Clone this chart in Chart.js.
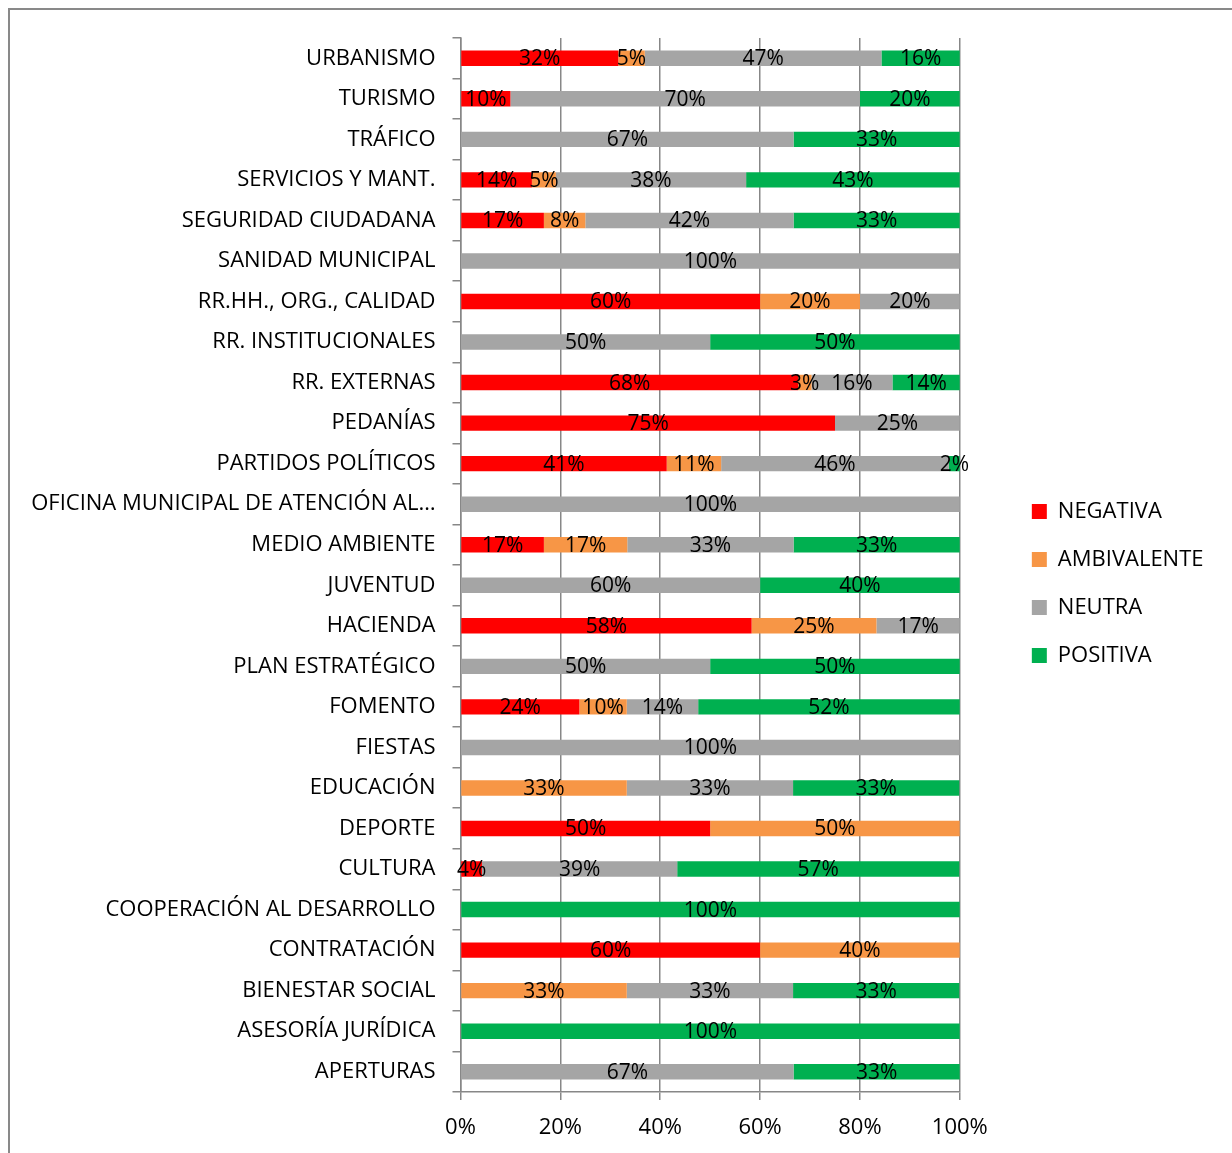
<!DOCTYPE html>
<html>
<head>
<meta charset="utf-8">
<script src="https://cdn.jsdelivr.net/npm/chart.js@4"></script>
<style>
  html, body { margin: 0; padding: 0; background: #fff; }
  #frame { position: absolute; left: 8px; top: 8px; width: 1400px; height: 1400px; border: 2px solid #898989; box-sizing: border-box; }
  #wrap { position: absolute; left: 0; top: 0; width: 1232px; height: 1153px; }
</style>
</head>
<body>
<div id="frame"></div>
<div id="wrap"><canvas id="chart"></canvas></div>
<script>
// -----Data
var categories = ['URBANISMO', 'TURISMO', 'TRÁFICO', 'SERVICIOS Y MANT.', 'SEGURIDAD CIUDADANA', 'SANIDAD MUNICIPAL',
  'RR.HH., ORG., CALIDAD', 'RR. INSTITUCIONALES', 'RR. EXTERNAS', 'PEDANÍAS', 'PARTIDOS POLÍTICOS',
  'OFICINA MUNICIPAL DE ATENCIÓN AL…', 'MEDIO AMBIENTE', 'JUVENTUD', 'HACIENDA', 'PLAN ESTRATÉGICO', 'FOMENTO',
  'FIESTAS', 'EDUCACIÓN', 'DEPORTE', 'CULTURA', 'COOPERACIÓN AL DESARROLLO', 'CONTRATACIÓN', 'BIENESTAR SOCIAL',
  'ASESORÍA JURÍDICA', 'APERTURAS']
var negativa    = [31.6, 10, 0, 14.3, 16.7, 0, 60, 0, 67.6, 75, 41.3, 0, 16.7, 0, 58.3, 0, 23.8, 0, 0, 50, 4.3, 0, 60, 0, 0, 0]
var ambivalente = [5.3, 0, 0, 4.8, 8.3, 0, 20, 0, 2.7, 0, 10.9, 0, 16.7, 0, 25, 0, 9.5, 0, 33.3, 50, 0, 0, 40, 33.3, 0, 0]
var neutra      = [47.4, 70, 66.7, 38.1, 41.7, 100, 20, 50, 16.2, 25, 45.6, 100, 33.3, 60, 16.7, 50, 14.3, 100, 33.3, 0, 39.1, 0, 0, 33.3, 0, 66.7]
var positiva    = [15.7, 20, 33.3, 42.8, 33.3, 0, 0, 50, 13.5, 0, 2.2, 0, 33.3, 40, 0, 50, 52.4, 0, 33.3, 0, 56.5, 100, 0, 33.3, 100, 33.3]
var xTicks = [0, 20, 40, 60, 80, 100]

var FONT = "'Open Sans', sans-serif"
var gridColor = '#878787'

// -----Labels inside the bars
var barLabels = {
  id: 'barLabels',
  afterDatasetsDraw: function(chart) {
    var ctx = chart.ctx
    ctx.save()
    ctx.font = '21px ' + FONT
    ctx.fillStyle = '#000'
    ctx.textAlign = 'center'
    ctx.textBaseline = 'middle'
    chart.data.datasets.forEach(function(ds, i) {
      var meta = chart.getDatasetMeta(i)
      meta.data.forEach(function(bar, j) {
        var v = ds.data[j]
        if (!v) return
        ctx.fillText(Math.round(v) + '%', (bar.x + bar.base) / 2, bar.y + 1)
      })
    })
    ctx.restore()
  }
}

function makeSet(label, data, color) {
  return {
    label: label,
    data: data,
    backgroundColor: color,
    borderWidth: 0,
    categoryPercentage: 1,
    barPercentage: 0.38
  }
}

// empty box used only to reserve space
function spacer(axis, position, size) {
  return {
    axis: axis,
    type: 'linear',
    min: 0,
    max: 1,
    position: position,
    afterFit: function(scale) {
      if (axis === 'x') scale.height = size
      else scale.width = size
    },
    grid: { display: false },
    border: { display: false },
    ticks: { display: false }
  }
}

var chart = new Chart(document.getElementById('chart'), {
  type: 'bar',
  data: {
    labels: categories,
    datasets: [
      makeSet('NEGATIVA', negativa, '#ff0000'),
      makeSet('AMBIVALENTE', ambivalente, '#f79646'),
      makeSet('NEUTRA', neutra, '#a5a5a5'),
      makeSet('POSITIVA', positiva, '#00b050')
    ]
  },
  options: {
    indexAxis: 'y',
    responsive: true,
    maintainAspectRatio: false,
    animation: false,
    layout: { padding: { top: 14, right: 25, bottom: 0, left: 0 } },
    plugins: {
      tooltip: { enabled: false },
      legend: {
        position: 'right',
        labels: {
          boxWidth: 15,
          boxHeight: 15,
          padding: 26,
          color: '#000',
          font: { family: FONT, size: 22 }
        }
      }
    },
    scales: {
      x: {
        stacked: true,
        min: 0,
        max: 100,
        afterBuildTicks: function(scale) {
          scale.ticks = xTicks.map(function(v) { return { value: v } })
        },
        afterFit: function(scale) { scale.height = 61 },
        grid: { color: gridColor, lineWidth: 1.5, tickLength: 8 },
        border: { color: gridColor, width: 1.5 },
        ticks: {
          color: '#000',
          padding: 15,
          font: { family: FONT, size: 22 },
          callback: function(v) { return v + '%' }
        }
      },
      y: {
        stacked: true,
        afterFit: function(scale) { scale.width = 460.5 },
        grid: { offset: true, drawOnChartArea: false, color: gridColor, lineWidth: 1.5, tickLength: 8 },
        border: { color: gridColor, width: 1.5 },
        ticks: {
          color: '#000',
          padding: 17,
          autoSkip: false,
          font: { family: FONT, size: 22 }
        }
      },
      topGap: spacer('x', 'top', 24),
      rightGap: spacer('y', 'right', 46)
    }
  },
  plugins: [barLabels]
})
</script>
</body>
</html>
